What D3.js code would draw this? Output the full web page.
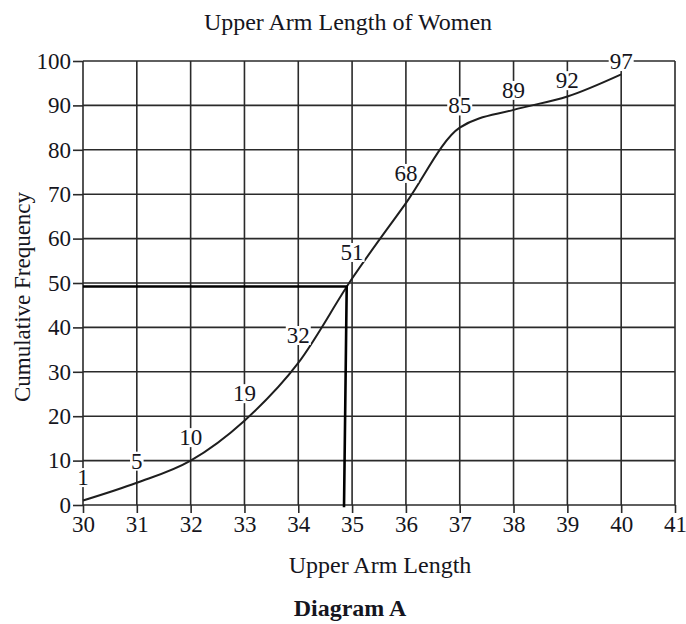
<!DOCTYPE html>
<html>
<head>
<meta charset="utf-8">
<script src="https://cdn.jsdelivr.net/npm/d3@7"></script>
<style>
  body { margin: 0; background: #fff; }
  text { font-family: "Liberation Serif", "Times New Roman", serif; fill: #151520; }
</style>
</head>
<body>
<svg id="chart" width="686" height="624"></svg>
<script>
// upper arm length (cm) and cumulative frequency
var lengths = [30, 31, 32, 33, 34, 35, 36, 37, 38, 39, 40];
var cumFreq = [1, 5, 10, 19, 32, 51, 68, 85, 89, 92, 97];
// where each value label sits, in cumulative frequency units
var labelCf = [6.3, 10, 15.3, 25.2, 38.3, 57, 74.8, 90, 93.5, 95.7, 100];
// median read-off
var median = 34.9, half = 49.2;
var xTicks = d3.range(30, 42, 1);
var yTicks = d3.range(0, 110, 10);

var svg = d3.select("#chart");
var x = d3.scaleLinear().domain([30, 41]).range([83, 675]);
var y = d3.scaleLinear().domain([0, 100]).range([505, 61]);
var ink = "#2a2a2a";

// grid
svg.append("g").selectAll("line").data(xTicks).enter().append("line")
    .attr("x1", d => x(d)).attr("x2", d => x(d))
    .attr("y1", y(0)).attr("y2", y(100))
    .attr("stroke", ink).attr("stroke-width", 1.6);
svg.append("g").selectAll("line").data(yTicks).enter().append("line")
    .attr("x1", x(30)).attr("x2", x(41))
    .attr("y1", d => y(d)).attr("y2", d => y(d))
    .attr("stroke", ink).attr("stroke-width", 1.6);

// axes
var yAxis = svg.append("g").attr("transform", "translate(" + x(30) + ",0)")
    .call(d3.axisLeft(y).tickValues(yTicks).tickSize(10).tickPadding(2).tickSizeOuter(0));
var xAxis = svg.append("g").attr("transform", "translate(0," + y(0) + ")")
    .call(d3.axisBottom(x).tickValues(xTicks).tickSize(8).tickPadding(3).tickSizeOuter(0));
[yAxis, xAxis].forEach(function(a){
    a.select(".domain").remove();
    a.selectAll(".tick line").attr("stroke", ink).attr("stroke-width", 1.6);
    a.selectAll("text").attr("font-size", 23).attr("fill", "#151520")
        .attr("font-family", "Liberation Serif, serif");
});

// curve
var pts = lengths.map((d, i) => [d, cumFreq[i]]);
svg.append("path").datum(pts)
    .attr("fill", "none").attr("stroke", "#1e1e1e").attr("stroke-width", 2)
    .attr("d", d3.line().x(d => x(d[0])).y(d => y(d[1])).curve(d3.curveMonotoneX));

// median lines
svg.append("path")
    .attr("fill", "none").attr("stroke", "#000").attr("stroke-width", 2.6)
    .attr("d", "M" + x(30) + "," + y(half) + "L" + x(median) + "," + y(half)
        + "L" + x(median - 0.05) + "," + y(-0.5));

// value labels with white backing
var lab = svg.append("g").selectAll("g").data(lengths).enter().append("g");
lab.append("text")
    .attr("x", d => x(d)).attr("y", (d, i) => y(labelCf[i]))
    .attr("dy", "0.35em").attr("text-anchor", "middle")
    .attr("font-size", 23)
    .text((d, i) => cumFreq[i]);
lab.each(function(){
    var t = d3.select(this).select("text"), b = t.node().getBBox();
    d3.select(this).insert("rect", "text")
        .attr("x", b.x - 1).attr("y", b.y + 3).attr("width", b.width + 2).attr("height", b.height - 6)
        .attr("fill", "#fff");
});

// titles
svg.append("text").attr("x", 348).attr("y", 30).attr("text-anchor", "middle")
    .attr("font-size", 24).text("Upper Arm Length of Women");
svg.append("text").attr("x", 380).attr("y", 573).attr("text-anchor", "middle")
    .attr("font-size", 24).text("Upper Arm Length");
svg.append("text").attr("x", 350).attr("y", 616).attr("text-anchor", "middle")
    .attr("font-size", 24).attr("font-weight", "bold").text("Diagram A");
svg.append("text").attr("transform", "translate(30,297) rotate(-90)")
    .attr("text-anchor", "middle").attr("font-size", 23).text("Cumulative Frequency");
</script>
</body>
</html>
